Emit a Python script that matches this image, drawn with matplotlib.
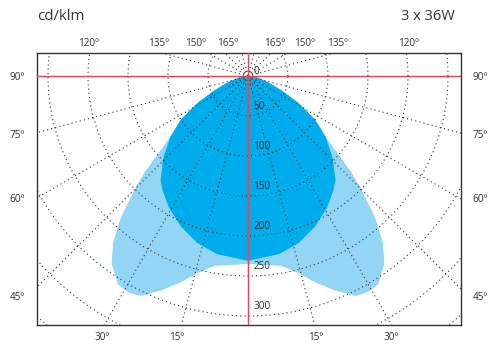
import numpy as np
import matplotlib
matplotlib.use('Agg')
import matplotlib.pyplot as plt
from matplotlib.patches import Circle

plt.rcParams['font.family'] = ['Open Sans', 'DejaVu Sans']

# intensity, cd/klm, angle measured from nadir (symmetric)
dark_deg = [0, 10, 17, 24, 31, 37, 40, 46, 52, 57, 62, 67, 73, 79, 85, 90]
dark_cd = [231, 226, 218, 206, 192, 178, 170, 147, 123, 100, 71, 45, 26, 13, 4, 0]

light_deg = [0, 10, 14, 18, 22, 26, 29, 32, 36, 39, 42, 45, 47, 49, 52,
             57, 62, 67, 73, 79, 85, 90]
light_cd = [235, 241, 253, 271, 289, 306, 309, 307, 290, 268, 237, 200, 177,
            150, 123, 100, 71, 45, 26, 13, 4, 0]

rings = [50, 100, 150, 200, 250, 300, 350, 400]
ring_labels = ['0', '50', '100', '150', '200', '250', '300']
spokes = np.arange(0, 360, 15)

# angle labels: (text, x px, y px)
top_labels = [('120º', 89), ('135º', 159), ('150º', 196), ('165º', 228),
              ('165º', 275), ('150º', 305), ('135º', 338), ('120º', 409)]
side_labels = [('90º', 77), ('75º', 135), ('60º', 200), ('45º', 298)]
bottom_labels = [('30º', 102), ('15º', 177), ('15º', 316), ('30º', 391)]

W, H = 488, 348
ox, oy = 248, 76          # origin, px
scale = 0.8               # px per cd/klm
left, right, top, bottom = 37, 461, 53, 325

fig = plt.figure(figsize=(W / 100, H / 100), dpi=100)
ax = fig.add_axes([left / W, 1 - bottom / H, (right - left) / W, (bottom - top) / H])
ax.set_xlim((left - ox) / scale, (right - ox) / scale)
ax.set_ylim(-(bottom - oy) / scale, (oy - top) / scale)
ax.set_xticks([])
ax.set_yticks([])
for s in ax.spines.values():
    s.set_color('#333333')
    s.set_linewidth(1.0)


def curve(deg, cd):
    deg = np.asarray(deg, float)
    cd = np.asarray(cd, float)
    t = np.radians(np.concatenate([-deg[::-1], deg[1:]]))
    r = np.concatenate([cd[::-1], cd[1:]])
    return r * np.sin(t), -r * np.cos(t)


x, y = curve(light_deg, light_cd)
ax.fill(x, y, color='#92d5f5', lw=0, zorder=1)
x, y = curve(dark_deg, dark_cd)
ax.fill(x, y, color='#00acec', lw=0, zorder=2)

dots = dict(color='#333333', lw=0.8, linestyle=(0, (1, 2.8)), zorder=3)
tt = np.linspace(0, 2 * np.pi, 400)
for r in rings:
    ax.plot(r * np.cos(tt), r * np.sin(tt), **dots)
for a in spokes:
    t = np.radians(a)
    ax.plot([0, 450 * np.sin(t)], [0, -450 * np.cos(t)], **dots)
ax.add_patch(Circle((0, 0), 6.2, fill=False, ec='#666666', lw=0.6, zorder=4))

ax.axvline(0, color='#e8464e', lw=1.0, zorder=5)
ax.axhline(0, color='#e8464e', lw=1.0, zorder=5)

tk = dict(fontsize=7.2, color='#333333', zorder=6)
ax.text(7.5, 5, ring_labels[0], ha='left', va='center', **tk)
for i, lab in enumerate(ring_labels[1:], start=1):
    ax.text(6.5, -rings[i - 1] + 12, lab, ha='left', va='center', **tk)

lk = dict(fontsize=7.2, color='#333333', ha='center', va='center')
for lab, px in top_labels:
    fig.text(px / W, 1 - 43 / H, lab, **lk)
for lab, py in side_labels:
    fig.text(17 / W, 1 - py / H, lab, **lk)
    fig.text(480 / W, 1 - py / H, lab, **lk)
for lab, px in bottom_labels:
    fig.text(px / W, 1 - 338 / H, lab, **lk)

fig.text(37 / W, 1 - 17 / H, 'cd/klm', fontsize=10.8, color='#333333', ha='left', va='center')
fig.text(455 / W, 1 - 17 / H, '3 x 36W', fontsize=10.5, color='#333333', ha='right', va='center')

fig.savefig('out.png', dpi=100)
